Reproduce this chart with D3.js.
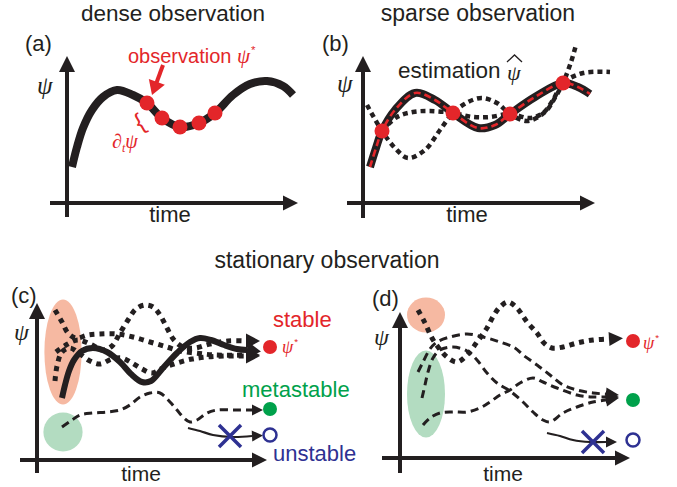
<!DOCTYPE html>
<html><head><meta charset="utf-8">
<script src="https://cdn.jsdelivr.net/npm/d3@7"></script>
<style>
html,body{margin:0;padding:0;background:#fff;}
svg{display:block;}
text{font-family:"Liberation Sans",Arial,Helvetica,sans-serif;fill:#231f20;}
.sym{font-family:"Liberation Serif","Times New Roman",serif;font-style:italic;}
</style></head><body>
<svg id="fig" width="677" height="487"></svg>
<script>
// ---------- text ----------
const titles = ["dense observation", "sparse observation", "stationary observation"];
const panelTags = ["(a)", "(b)", "(c)", "(d)"];
const timeLabel = "time";
const psiLabel = "\u03C8";
const stateLabels = ["stable", "metastable", "unstable"];

// ---------- (a) dense observation: trajectory [time, psi] ----------
const curveA = [[0.25,1.8],[0.5,2.8],[0.8,3.75],[1.25,4.65],[1.8,5.3],[2.5,5.65],[3.3,5.4],[4.0,5.0],[4.75,4.25],[5.65,3.8],[6.6,4.0],[7.4,4.5],[8.3,5.4],[9.15,5.95],[10.0,6.1],[10.8,5.85],[11.3,5.4]];
const obsA = [[4.0,5.0],[4.75,4.25],[5.65,3.8],[6.6,4.0],[7.4,4.5]];
const pointerA = [[4.8,6.9],[4.25,5.4]];

// ---------- (b) sparse observation ----------
const curveB = [[0.35,1.8],[0.65,2.75],[0.95,3.6],[1.6,4.65],[2.6,5.5],[3.6,5.15],[4.5,4.5],[5.75,3.75],[6.6,3.9],[7.35,4.45],[8.6,5.3],[10.0,6.0],[10.75,5.8],[11.35,5.45]];
const obsB = [[0.95,3.6],[4.5,4.5],[7.35,4.45],[10.0,6.0]];
const altB1 = [[0.2,4.9],[0.95,3.6],[1.6,2.75],[2.25,2.25],[3.1,2.65],[3.85,3.65],[4.5,4.5],[5.25,5.05],[5.95,5.25],[6.7,5.0],[7.35,4.45],[8.2,4.1],[9.1,4.55],[9.65,5.35],[10.0,6.0],[10.4,7.05],[10.65,7.9]];
const altB2 = [[0.95,3.6],[1.7,4.3],[2.5,4.55],[3.35,4.6],[4.5,4.5],[5.5,4.3],[6.35,4.3],[7.35,4.45],[8.35,4.25],[9.0,4.5],[9.5,5.15],[10.0,6.0],[11.0,6.5],[12.35,6.55]];

// ---------- (c) stationary observation, one basin per start region ----------
const solidC = [[1.25,3.1],[1.4,3.75],[1.6,4.45],[1.85,5.0],[2.25,5.45],[2.8,5.6],[3.5,5.4],[4.15,4.9],[4.7,4.3],[5.25,3.9],[5.7,3.95],[6.3,4.6],[7.0,5.35],[7.65,5.9],[8.15,6.1],[8.7,6.0],[9.35,5.75],[10.0,5.55],[10.5,5.5]];
const dotC1 = [[0.9,7.5],[1.25,6.9],[1.55,6.35],[1.95,6.1],[2.55,6.25],[3.15,6.3],[4.0,6.3],[4.8,6.15],[5.65,5.9],[6.5,5.65],[7.15,5.45],[7.9,5.35],[8.9,5.25],[10.45,5.25]];
const dotC2 = [[0.9,3.95],[1.0,4.7],[1.25,5.4],[1.65,5.6],[2.15,5.3],[2.65,4.95],[3.15,4.8],[3.75,5.05],[4.25,5.1],[4.75,4.85],[5.25,4.55],[5.75,4.35],[6.3,4.6],[7.0,4.85],[7.75,5.05],[8.5,5.15],[9.5,5.2],[10.45,5.2]];
const dotC3 = [[0.95,5.4],[1.45,5.75],[2.05,6.0],[2.65,5.8],[3.3,5.5],[3.75,5.7],[4.15,6.35],[4.55,7.0],[4.95,7.55],[5.4,7.75],[5.8,7.65],[6.15,7.25],[6.5,6.6],[6.85,6.0],[7.3,5.65],[7.9,5.6],[8.65,5.8],[9.55,5.95],[10.45,5.95]];
const metaC = [[1.25,1.65],[1.75,2.0],[2.15,2.25],[2.8,2.35],[3.5,2.4],[4.15,2.5],[4.65,2.75],[5.15,3.15],[5.65,3.35],[6.15,3.35],[6.65,2.9],[7.0,2.5],[7.3,2.15],[7.65,1.9],[8.0,2.0],[8.5,2.35],[9.0,2.5],[9.9,2.5],[10.75,2.5]];
const unstC = [[7.55,1.6],[8.15,1.45],[8.8,1.25],[9.8,1.15],[10.75,1.2]];
const crossC = [9.65,1.2];
const regionsC = [{c:[1.3,5.4], r:[0.93,2.63], kind:"stable"}, {c:[1.3,1.4], r:[0.98,0.98], kind:"meta"}];
const statesC = [[11.65,5.65],[11.65,2.55],[11.65,1.25]];

// ---------- (d) stationary observation, mixed start regions ----------
const dotD1 = [[0.9,7.4],[1.25,6.75],[1.6,6.0],[1.9,5.55],[2.35,5.05],[2.85,4.8],[3.35,5.15],[3.85,5.8],[4.35,6.5],[4.7,7.15],[5.0,7.55],[5.4,7.8],[5.85,7.5],[6.35,6.8],[6.85,6.25],[7.2,5.75],[7.6,5.5],[8.15,5.55],[8.85,5.75],[9.65,5.9],[10.45,5.95]];
const dashD2 = [[0.9,4.3],[1.15,4.8],[1.5,5.45],[1.85,5.8],[2.5,6.05],[3.35,6.2],[4.15,6.05],[5.0,5.8],[5.75,5.5],[6.15,5.15],[6.85,4.65],[7.5,4.15],[8.15,3.65],[8.85,3.4],[9.65,3.25],[10.3,3.2]];
const dashD3 = [[1.1,3.0],[1.25,3.65],[1.4,4.3],[1.65,5.0],[2.0,5.4],[2.65,5.55],[3.35,5.35],[3.85,4.9],[4.35,4.25],[4.85,3.75],[5.5,3.35],[6.15,2.8],[6.65,2.3],[7.15,1.9],[7.5,1.8],[8.15,2.25],[8.85,2.55],[9.65,2.8],[10.3,2.9]];
const dashD4 = [[1.15,1.65],[1.5,2.0],[2.0,2.25],[2.65,2.3],[3.35,2.3],[4.0,2.5],[4.5,2.8],[5.0,3.15],[5.5,3.4],[6.0,3.75],[6.65,4.0],[7.15,3.8],[7.85,3.5],[8.85,3.15],[9.65,3.05],[10.3,3.05]];
const unstD = [[7.35,1.25],[8.0,1.1],[8.65,0.9],[9.5,0.8],[10.3,0.8]];
const crossD = [9.65,0.8];
const regionsD = [{c:[1.3,7.15], r:[0.95,0.875], kind:"stable"}, {c:[1.3,3.2], r:[0.95,2.18], kind:"meta"}];
const statesD = [[11.65,5.85],[11.65,2.9],[11.65,0.9]];

// ---------- drawing ----------
const INK = "#231f20", RED = "#e3262a", GREEN = "#00a14b", BLUE = "#2e3192";
const SALMON = "#f6b9a2", MINT = "#b3dcc1";
const UNIT = 20; // px per data unit, shared by all panels

const svg = d3.select("#fig");
svg.append("rect").attr("width", 677).attr("height", 487).attr("fill", "#fff");

function makePanel(x0, y0, tMax, pMax, below, left) {
  const x = d3.scaleLinear().domain([0, tMax]).range([x0, x0 + tMax * UNIT]);
  const y = d3.scaleLinear().domain([0, pMax]).range([y0, y0 - pMax * UNIT]);
  const g = svg.append("g");
  const line = d3.line().x(d => x(d[0])).y(d => y(d[1])).curve(d3.curveCatmullRom.alpha(0.5));
  const p = {x, y, g, line, tMax, pMax};
  // axes with arrow heads
  g.append("line").attr("x1", x(0)).attr("x2", x(0)).attr("y1", y0 + below).attr("y2", y(pMax) + 14)
    .attr("stroke", INK).attr("stroke-width", 4);
  head(g, [x(0), y(pMax)], [0, -1], 16, 16, INK);
  g.append("line").attr("x1", x0 - left).attr("x2", x(tMax) - 14).attr("y1", y0).attr("y2", y0)
    .attr("stroke", INK).attr("stroke-width", 4);
  head(g, [x(tMax), y0], [1, 0], 15, 15, INK);
  return p;
}

function head(g, tip, dir, len, wid, color) {
  const [tx, ty] = tip, [dx, dy] = dir;
  const bx = tx - dx * len, by = ty - dy * len, nx = -dy, ny = dx;
  g.append("path")
    .attr("d", `M${tx},${ty}L${bx + nx * wid / 2},${by + ny * wid / 2}L${bx - nx * wid / 2},${by - ny * wid / 2}Z`)
    .attr("fill", color);
}

function curve(p, pts, style, arrow) {
  const path = p.g.append("path").attr("d", p.line(pts)).attr("fill", "none")
    .attr("stroke", style.color || INK).attr("stroke-width", style.width);
  if (style.dash) path.attr("stroke-dasharray", style.dash);
  if (arrow) {
    const a = pts[pts.length - 2], b = pts[pts.length - 1];
    const ax = p.x(a[0]), ay = p.y(a[1]), bx = p.x(b[0]), by = p.y(b[1]);
    const L = Math.hypot(bx - ax, by - ay), d = [(bx - ax) / L, (by - ay) / L];
    head(p.g, [bx + d[0] * arrow.len, by + d[1] * arrow.len], d, arrow.len, arrow.wid, style.color || INK);
  }
  return path;
}

function dots(p, pts, r, color) {
  p.g.selectAll(null).data(pts).join("circle")
    .attr("cx", d => p.x(d[0])).attr("cy", d => p.y(d[1])).attr("r", r).attr("fill", color);
}

function regions(p, list) {
  p.g.selectAll(null).data(list).join("ellipse")
    .attr("cx", d => p.x(d.c[0])).attr("cy", d => p.y(d.c[1]))
    .attr("rx", d => d.r[0] * UNIT).attr("ry", d => d.r[1] * UNIT)
    .attr("fill", d => d.kind === "stable" ? SALMON : MINT);
}

function cross(p, c) {
  const cx = p.x(c[0]), cy = p.y(c[1]), s = 11;
  p.g.append("path").attr("d", `M${cx - s},${cy - s}L${cx + s},${cy + s}M${cx - s},${cy + s}L${cx + s},${cy - s}`)
    .attr("stroke", BLUE).attr("stroke-width", 3.5);
}

function states(p, st) {
  p.g.append("circle").attr("cx", p.x(st[0][0])).attr("cy", p.y(st[0][1])).attr("r", 7).attr("fill", RED);
  p.g.append("circle").attr("cx", p.x(st[1][0])).attr("cy", p.y(st[1][1])).attr("r", 7).attr("fill", GREEN);
  p.g.append("circle").attr("cx", p.x(st[2][0])).attr("cy", p.y(st[2][1])).attr("r", 6.5)
    .attr("fill", "#fff").attr("stroke", BLUE).attr("stroke-width", 2.5);
}

function label(txt, x, y, size, opts = {}) {
  const t = svg.append("text").attr("x", x).attr("y", y).attr("font-size", size).text(txt);
  if (opts.anchor) t.attr("text-anchor", opts.anchor);
  if (opts.color) t.style("fill", opts.color);
  if (opts.cls) t.attr("class", opts.cls);
  return t;
}

function psiStar(x, y, size, color) {
  const t = svg.append("text").attr("x", x).attr("y", y).attr("font-size", size).style("fill", color);
  t.append("tspan").attr("class", "sym").text(psiLabel);
  t.append("tspan").attr("font-size", size * 0.55).attr("dx", 1).attr("dy", -size * 0.45).text("*");
  return t;
}

const STYLE = {
  thick: {width: 8},
  solid: {width: 6},
  fineDot: {width: 4.5, dash: "5,4"},
  bigDot: {width: 5, dash: "5,5"},
  dashed: {width: 3, dash: "8,5"},
  thin: {width: 2.2}
};

// ---- (a) ----
const pa = makePanel(67, 203, 11.55, 7.35, 14, 17);
curve(pa, curveA, STYLE.thick);
dots(pa, obsA, 7.5, RED);
{
  const s = pointerA[0], e = pointerA[1];
  const sx = pa.x(s[0]), sy = pa.y(s[1]), ex = pa.x(e[0]), ey = pa.y(e[1]);
  const L = Math.hypot(ex - sx, ey - sy), d = [(ex - sx) / L, (ey - sy) / L];
  pa.g.append("line").attr("x1", sx).attr("y1", sy).attr("x2", ex - d[0] * 12).attr("y2", ey - d[1] * 12)
    .attr("stroke", RED).attr("stroke-width", 4);
  head(pa.g, [ex, ey], d, 14, 17, RED);
}
label("observation ", 128, 63, 20, {color: RED});
psiStar(237, 63, 21, RED);
label("{", 0, 0, 24, {color: RED}).attr("transform", "translate(140,131) rotate(-30)");
{
  const t = label("", 112, 148, 20, {color: RED, cls: "sym"});
  t.append("tspan").text("\u2202");
  t.append("tspan").attr("font-size", 12).attr("dy", 4).text("t");
  t.append("tspan").attr("dy", -4).text(psiLabel);
}

// ---- (b) ----
const pb = makePanel(363, 203, 11.6, 7.35, 15, 16);
curve(pb, altB1, STYLE.fineDot);
curve(pb, altB2, STYLE.fineDot);
curve(pb, curveB, STYLE.thick);
curve(pb, curveB, {width: 2.6, dash: "7,4", color: RED});
dots(pb, obsB, 7.5, RED);
label("estimation", 398, 78, 22.5);
label(psiLabel, 507, 80, 22, {cls: "sym"});
svg.append("path").attr("d", "M507,62L514.5,55L522,62").attr("fill", "none").attr("stroke", INK).attr("stroke-width", 1.3);

// ---- (c) ----
const pc = makePanel(37, 460, 11.5, 7.85, 13, 17);
regions(pc, regionsC);
curve(pc, dotC1, STYLE.bigDot, {len: 14, wid: 15});
curve(pc, dotC2, STYLE.bigDot, {len: 14, wid: 15});
curve(pc, dotC3, STYLE.bigDot, {len: 14, wid: 15});
curve(pc, solidC, STYLE.solid, {len: 14, wid: 17});
curve(pc, metaC, STYLE.dashed, {len: 11, wid: 11});
curve(pc, unstC, STYLE.thin, {len: 11, wid: 11});
cross(pc, crossC);
states(pc, statesC);

// ---- (d) ----
const pd = makePanel(400, 458, 11.5, 7.3, 15, 18);
regions(pd, regionsD);
curve(pd, dashD2, STYLE.dashed, {len: 13, wid: 13});
curve(pd, dashD3, STYLE.dashed, {len: 13, wid: 13});
curve(pd, dashD4, STYLE.dashed, {len: 13, wid: 13});
curve(pd, dotD1, STYLE.bigDot, {len: 14, wid: 14});
curve(pd, unstD, STYLE.thin, {len: 11, wid: 11});
cross(pd, crossD);
states(pd, statesD);

// ---- titles, tags, axis labels ----
label(titles[0], 173, 21, 22.5, {anchor: "middle"});
label(titles[1], 478, 21, 23, {anchor: "middle"});
label(titles[2], 327, 268, 23, {anchor: "middle"});
label(panelTags[0], 25, 51, 22);
label(panelTags[1], 322, 51, 22);
label(panelTags[2], 11, 303, 22);
label(panelTags[3], 372, 306, 22);
label(timeLabel, 170, 222, 22, {anchor: "middle"});
label(timeLabel, 467, 222, 22, {anchor: "middle"});
label(timeLabel, 141, 481, 21, {anchor: "middle"});
label(timeLabel, 503, 481, 21, {anchor: "middle"});
label(psiLabel, 37, 94, 25, {cls: "sym"});
label(psiLabel, 337, 92, 25, {cls: "sym"});
label(psiLabel, 14, 340, 24, {cls: "sym"});
label(psiLabel, 374, 345, 24, {cls: "sym"});
label(stateLabels[0], 273, 327, 22, {color: RED});
label(stateLabels[1], 242, 397, 22, {color: GREEN});
label(stateLabels[2], 273, 461, 22, {color: BLUE});
psiStar(282, 353, 18, RED);
psiStar(643, 349, 18, RED);
</script>
</body></html>
